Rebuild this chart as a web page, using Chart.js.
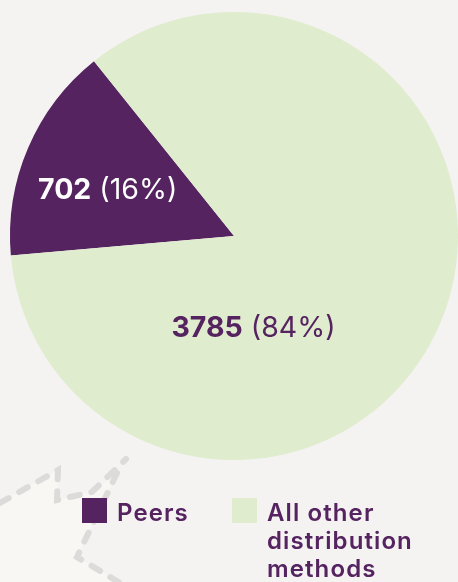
<!DOCTYPE html>
<html>
<head>
<meta charset="utf-8">
<script src="https://cdn.jsdelivr.net/npm/chart.js@4"></script>
<style>
  html, body { margin: 0; padding: 0; background: #f4f3f2; }
  #wrap { width: 458px; height: 582px; position: relative; overflow: hidden; }
</style>
</head>
<body>
<div id="wrap"><canvas id="chart-pie"></canvas></div>
<script>
  // data
  const labels = ["Peers", ["All other", "distribution", "methods"]];
  const values = [702, 3785];
  const colors = ["#55235f", "#e0ecce"];
  const labelColors = ["#ffffff", "#55235f"];

  const FONT = "Inter, 'Noto Sans', sans-serif";
  const total = values.reduce((a, b) => a + b, 0);

  // декоративный фон с пунктиром слева снизу
  const decoPlugin = {
    id: "deco",
    beforeDatasetsDraw(chart) {
      const c = chart.ctx;
      c.save();
      c.fillStyle = "#f9f7f3";
      c.beginPath();
      c.moveTo(0, 503);
      c.lineTo(58, 470);
      c.lineTo(57, 500);
      c.lineTo(92, 492);
      c.lineTo(118, 472);
      c.lineTo(77, 557);
      c.lineTo(125, 586);
      c.lineTo(0, 586);
      c.closePath();
      c.fill();

      c.strokeStyle = "#dcdbd9";
      c.lineWidth = 6;
      c.lineCap = "round";
      c.setLineDash([10, 12]);
      c.beginPath();
      c.moveTo(0, 503);
      c.lineTo(58, 470);
      c.lineTo(57, 500);
      c.lineTo(92, 492);
      c.lineTo(126, 459);
      c.stroke();
      c.beginPath();
      c.moveTo(117, 473);
      c.lineTo(77, 557);
      c.lineTo(125, 586);
      c.stroke();
      c.restore();
    },
  };

  // подписи значений на секторах
  const valueLabels = {
    id: "valueLabels",
    afterDatasetsDraw(chart, args, opts) {
      const c = chart.ctx;
      const meta = chart.getDatasetMeta(0);
      meta.data.forEach((arc, i) => {
        const a = (opts.anchors[i].angle * Math.PI) / 180;
        const r = arc.outerRadius * opts.anchors[i].r;
        const x = arc.x + Math.cos(a) * r;
        const y = arc.y + Math.sin(a) * r;
        const num = String(values[i]);
        const pct = " (" + Math.round((values[i] / total) * 100) + "%)";
        c.save();
        c.fillStyle = labelColors[i];
        c.textBaseline = "middle";
        c.font = `700 ${opts.size}px ${FONT}`;
        const w1 = c.measureText(num).width;
        c.font = `400 ${opts.size}px ${FONT}`;
        const w2 = c.measureText(pct).width;
        let sx = x - (w1 + w2) / 2;
        c.font = `700 ${opts.size}px ${FONT}`;
        c.fillText(num, sx, y);
        c.font = `400 ${opts.size}px ${FONT}`;
        c.fillText(pct, sx + w1, y);
        c.restore();
      });
    },
  };

  // легенда внизу
  const legendPlugin = {
    id: "bottomLegend",
    afterDraw(chart, args, opts) {
      const c = chart.ctx;
      c.save();
      chart.data.labels.forEach((lab, i) => {
        const it = opts.items[i];
        c.fillStyle = colors[i];
        c.fillRect(it.x, opts.top, opts.box, opts.box);
        c.fillStyle = "#55235f";
        c.font = `600 ${opts.size}px ${FONT}`;
        c.letterSpacing = opts.spacing + "px";
        c.textBaseline = "alphabetic";
        const lines = Array.isArray(lab) ? lab : [lab];
        lines.forEach((ln, j) => {
          c.fillText(ln, it.x + opts.box + opts.gap, opts.baseline + j * opts.lineHeight);
        });
      });
      c.restore();
    },
  };

  const ctx = document.getElementById("chart-pie").getContext("2d");

  new Chart(ctx, {
    type: "pie",
    data: {
      labels: labels,
      datasets: [
        {
          data: values,
          backgroundColor: colors,
          borderWidth: 0,
          hoverOffset: 0,
        },
      ],
    },
    options: {
      responsive: true,
      maintainAspectRatio: false,
      animation: false,
      rotation: 265,
      layout: {
        padding: { top: 12, left: 10, right: 0, bottom: 122 },
      },
      plugins: {
        legend: { display: false },
        tooltip: { enabled: false },
        valueLabels: {
          size: 28.5,
          anchors: [
            { angle: 200, r: 0.6 },
            { angle: 78, r: 0.42 },
          ],
        },
        bottomLegend: {
          top: 498,
          box: 25,
          gap: 10,
          baseline: 521,
          lineHeight: 28,
          size: 24,
          spacing: 1.1,
          items: [{ x: 82 }, { x: 232 }],
        },
      },
    },
    plugins: [decoPlugin, valueLabels, legendPlugin],
  });
</script>
</body>
</html>
